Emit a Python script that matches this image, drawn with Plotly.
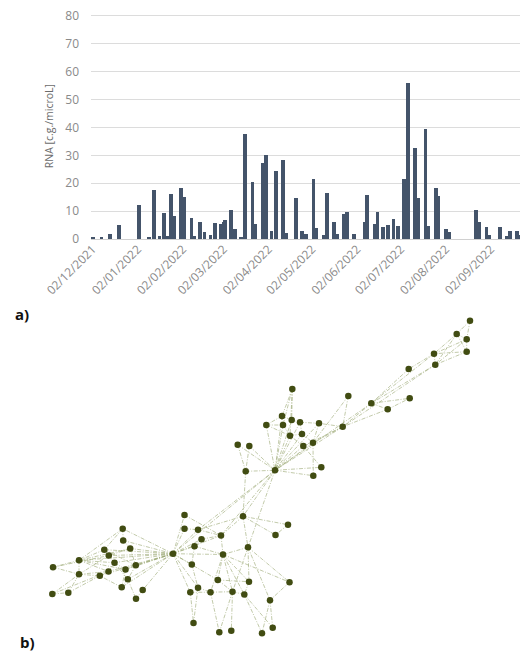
import plotly.graph_objects as go

# ---------------- a) RNA time series ----------------
sample_dates = [
    "2021-12-02", "2021-12-08", "2021-12-14", "2021-12-20", "2022-01-03", "2022-01-10",
    "2022-01-13", "2022-01-17", "2022-01-20", "2022-01-23", "2022-01-25", "2022-01-27",
    "2022-02-01", "2022-02-03", "2022-02-08", "2022-02-10", "2022-02-14", "2022-02-17",
    "2022-02-21", "2022-02-24", "2022-02-28", "2022-03-02", "2022-03-03", "2022-03-07",
    "2022-03-10", "2022-03-14", "2022-03-17", "2022-03-22", "2022-03-24", "2022-03-29",
    "2022-03-31", "2022-04-04", "2022-04-07", "2022-04-12", "2022-04-14", "2022-04-21",
    "2022-04-25", "2022-04-28", "2022-05-03", "2022-05-05", "2022-05-10", "2022-05-12",
    "2022-05-17", "2022-05-19", "2022-05-24", "2022-05-26", "2022-05-31", "2022-06-07",
    "2022-06-09", "2022-06-14", "2022-06-16", "2022-06-20", "2022-06-23", "2022-06-27",
    "2022-06-30", "2022-07-04", "2022-07-07", "2022-07-12", "2022-07-14", "2022-07-19",
    "2022-07-21", "2022-07-26", "2022-07-28", "2022-08-02", "2022-08-04", "2022-08-23",
    "2022-08-25", "2022-08-30", "2022-09-01", "2022-09-08", "2022-09-13", "2022-09-15",
    "2022-09-20", "2022-09-22",
]
rna_values = [
    0.8, 0.5, 1.6, 5.1, 12.3, 0.5,
    17.4, 1.0, 9.3, 1.0, 16.1, 8.3,
    18.3, 14.9, 7.6, 1.0, 5.9, 2.3,
    1.2, 5.6, 5.2, 6.1, 6.6, 10.3,
    3.4, 0.5, 37.7, 20.3, 5.3, 27.1,
    29.9, 2.9, 24.5, 28.3, 2.2, 14.8,
    2.9, 1.8, 21.5, 3.8, 1.4, 16.6,
    6.1, 1.8, 8.9, 9.7, 1.8, 5.9,
    15.7, 5.3, 9.7, 4.1, 5.0, 7.0,
    4.5, 21.5, 55.8, 32.4, 14.6, 39.5,
    4.7, 18.3, 15.5, 3.4, 2.5, 10.5,
    5.9, 4.3, 1.2, 4.4, 1.1, 2.7,
    2.8, 1.5,
]
tick_dates = ["2021-12-02", "2022-01-02", "2022-02-02", "2022-03-02", "2022-04-02",
              "2022-05-02", "2022-06-02", "2022-07-02", "2022-08-02", "2022-09-02"]
tick_labels = ["02/12/2021", "02/01/2022", "02/02/2022", "02/03/2022", "02/04/2022",
               "02/05/2022", "02/06/2022", "02/07/2022", "02/08/2022", "02/09/2022"]
y_ticks = [0, 10, 20, 30, 40, 50, 60, 70, 80]

# ---------------- b) network ----------------
node_x = [470, 456.7, 466.7, 466.7, 434, 435.3, 408.7, 409.7, 371.3, 387.7,
          348.3, 342.7, 292.3, 282, 291.7, 300, 266.3, 283, 319, 290,
          302, 313, 303.3, 237.7, 249.3, 275, 245.7, 321.3, 313.3, 243,
          288, 275.5, 248, 184.5, 184.5, 198, 201.5, 221, 194.5, 223,
          173, 191.8, 217.8, 249, 289.5, 198, 190.3, 210.5, 232.5, 244.3,
          270, 193.5, 219.3, 231.3, 262, 272.7, 122.7, 123.2, 130.2, 104.3,
          108.8, 79, 114.5, 135.8, 125.5, 53, 79, 99.8, 108.5, 127.8,
          121.7, 142.7, 136, 52.3, 68.3]
node_y = [320.7, 334, 339.3, 351.7, 353.7, 364.7, 369, 398.3, 403.3, 409.3,
          396, 426.7, 389, 416, 420, 422.3, 425, 425, 423.3, 435.7,
          434, 442.7, 446, 444.7, 446, 470.3, 471.3, 467.3, 475.7, 516.3,
          524.7, 535, 547.3, 515, 528.7, 529.7, 539.2, 535.5, 546.2, 554.5,
          553.7, 564.5, 580, 581.7, 582.2, 587.7, 592.3, 592.2, 591.7, 594.5,
          600.2, 623, 632.3, 630.8, 633.2, 627.7, 528.7, 540.5, 548.5, 549.7,
          555.5, 560.3, 562.7, 565.3, 569.5, 567.2, 574.3, 575.8, 571.5, 579.3,
          587.3, 590, 598.8, 594, 592.7]
edges = [
    (1, 2), (1, 3), (2, 3), (2, 4), (3, 4), (2, 5), (3, 5), (4, 5), (4, 6), (3, 6),
    (5, 6), (5, 7), (5, 9), (6, 9), (2, 6), (7, 9), (6, 12), (9, 8), (9, 10), (10, 8),
    (9, 12), (10, 12), (11, 12), (11, 22), (12, 22), (12, 19), (12, 26), (9, 26), (12, 23),
    (13, 14), (13, 15), (13, 18), (13, 20), (14, 15), (14, 17), (15, 16), (16, 19),
    (17, 18), (18, 20), (20, 21), (21, 22), (16, 21), (19, 22), (22, 23), (23, 20),
    (17, 26), (18, 26), (20, 26), (21, 26), (23, 26), (22, 26), (15, 26), (16, 26),
    (14, 26), (19, 26), (22, 29), (23, 28), (24, 26), (25, 26), (24, 27), (25, 27),
    (27, 26), (26, 28), (26, 29), (17, 20), (14, 18),
    (26, 41), (26, 30), (26, 38), (27, 30), (26, 49), (26, 36),
    (30, 31), (30, 32), (30, 33), (30, 38), (30, 36), (33, 40), (33, 44), (33, 45),
    (33, 51), (31, 32),
    (41, 34), (41, 35), (41, 36), (41, 37), (41, 39), (41, 38), (41, 40), (41, 42),
    (41, 46), (41, 47), (41, 43), (41, 57), (41, 58), (41, 59), (41, 60), (41, 61),
    (41, 63), (41, 64), (41, 65), (41, 69), (41, 70), (41, 71), (41, 72), (41, 62),
    (41, 68),
    (34, 38), (35, 36), (36, 38), (37, 38), (38, 40), (39, 40), (40, 43), (40, 44),
    (40, 45), (40, 49), (40, 48), (40, 50), (42, 46), (43, 44), (43, 49), (44, 50),
    (45, 51), (46, 48), (47, 52), (46, 52), (48, 53), (49, 54), (49, 53), (50, 55),
    (51, 55), (51, 56), (50, 56), (47, 48), (48, 49), (49, 50), (39, 42), (37, 39),
    (57, 58), (57, 60), (57, 62), (58, 59), (59, 61), (60, 61), (60, 62), (61, 63),
    (62, 63), (62, 66), (62, 67), (66, 67), (67, 68), (67, 69), (68, 69), (69, 63),
    (63, 65), (65, 64), (64, 70), (70, 71), (71, 68), (74, 75), (74, 67), (75, 67),
    (75, 68), (74, 69), (66, 61), (62, 65), (63, 70), (60, 64), (59, 64), (72, 73),
    (70, 73), (65, 71), (62, 69), (67, 61), (62, 59),
]

edge_x, edge_y = [], []
for a, b in edges:
    edge_x += [node_x[a - 1], node_x[b - 1], None]
    edge_y += [node_y[a - 1], node_y[b - 1], None]

# The page body adds an 8px margin, so the figure is 8px smaller than the window
OFF = 8
WIN_W, WIN_H = 528, 655
W, H = WIN_W - OFF, WIN_H - OFF


def px(sx):
    return (sx - OFF) / W


def py(sy):
    return 1 - (sy - OFF) / H


fig = go.Figure()

fig.add_trace(go.Bar(
    x=sample_dates, y=rna_values, width=2.6 * 86400000,
    marker=dict(color="#44546a", line=dict(width=0)),
    xaxis="x", yaxis="y", showlegend=False,
))

fig.add_trace(go.Scatter(
    x=edge_x, y=edge_y, mode="lines",
    line=dict(color="rgba(150,165,110,0.65)", width=0.9, dash="4px,1.5px,1px,1.5px"),
    xaxis="x2", yaxis="y2", hoverinfo="skip", showlegend=False,
))
fig.add_trace(go.Scatter(
    x=node_x, y=node_y, mode="markers",
    marker=dict(color="#414c12", size=6.5, line=dict(width=0)),
    xaxis="x2", yaxis="y2", showlegend=False,
))

font_family = "Open Sans, DejaVu Sans, sans-serif"
fig.update_layout(
    width=W, height=H,
    margin=dict(l=0, r=0, t=0, b=0, autoexpand=False),
    paper_bgcolor="white", plot_bgcolor="rgba(0,0,0,0)",
    font=dict(family=font_family, color="#7f7f7f"),
    bargap=0,
    xaxis=dict(
        type="date",
        domain=[px(91), px(527)],
        anchor="y", automargin=False,
        range=["2021-11-30 20:00", "2022-09-26 20:00"],
        tickmode="array", tickvals=tick_dates, ticktext=tick_labels,
        tickangle=-45, tickfont=dict(size=12, color="#8a8a8a"),
        showgrid=False, showline=False, zeroline=False, ticks="",
    ),
    yaxis=dict(
        domain=[py(239), py(13.2)],
        anchor="x", automargin=False,
        range=[0, 81],
        tickmode="array", tickvals=y_ticks,
        ticklabeloverflow="allow",
        tickfont=dict(size=12, color="#8a8a8a"),
        showgrid=True, gridcolor="#dcdcdc", gridwidth=1,
        zeroline=True, zerolinecolor="#d0d0d0", zerolinewidth=1,
        showline=False, ticks="", ticklabelstandoff=11,
        title=dict(text="RNA [c.g./microL]", font=dict(size=10.5, color="#6b6b6b"), standoff=9),
    ),
    xaxis2=dict(
        domain=[0, 1], anchor="y2", range=[OFF, WIN_W],
        visible=False, automargin=False,
    ),
    yaxis2=dict(
        domain=[0, py(295)], anchor="x2", range=[WIN_H, 295],
        visible=False, automargin=False,
    ),
    annotations=[
        dict(text="<b>a)</b>", x=px(13), y=py(314), xref="paper", yref="paper",
             xanchor="left", yanchor="middle", showarrow=False,
             font=dict(size=15, color="#111111", family=font_family)),
        dict(text="<b>b)</b>", x=px(18), y=py(642), xref="paper", yref="paper",
             xanchor="left", yanchor="middle", showarrow=False,
             font=dict(size=15, color="#111111", family=font_family)),
    ],
)

fig.write_html("out.html")
